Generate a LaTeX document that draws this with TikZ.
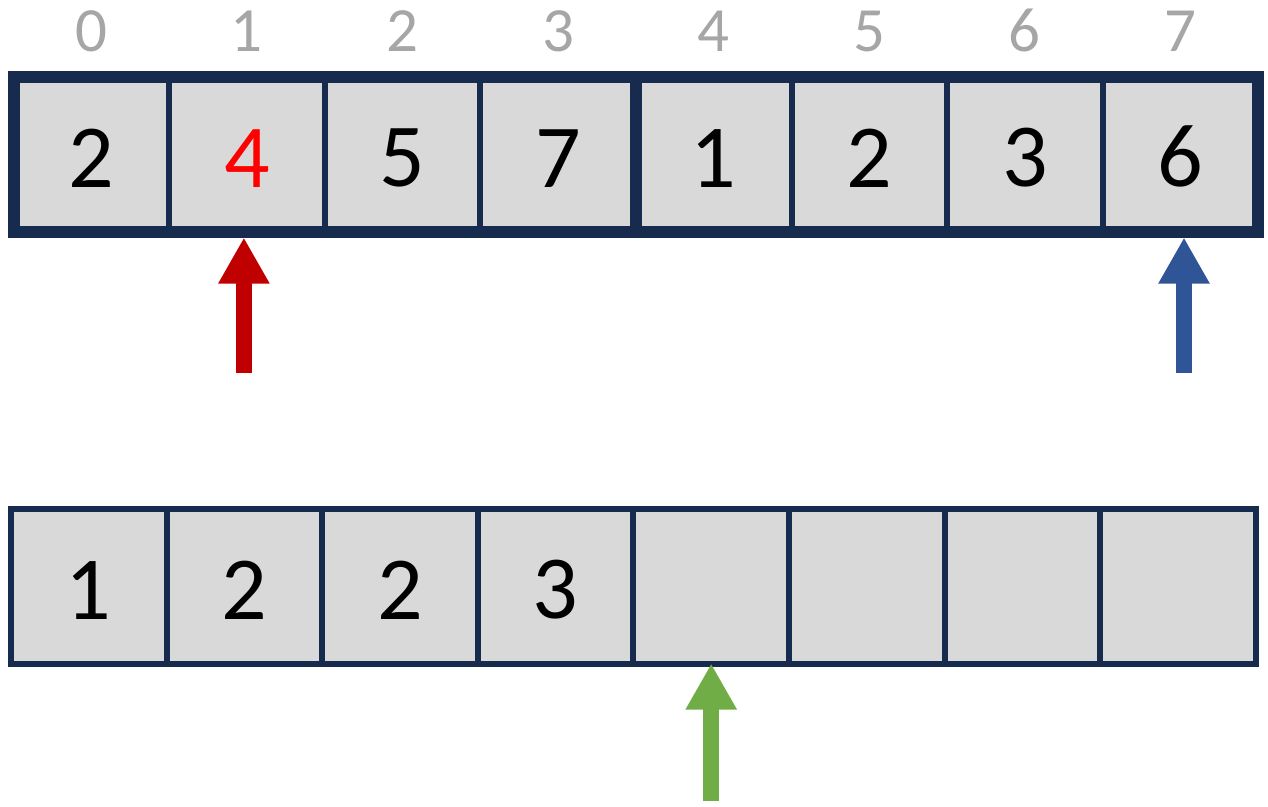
\documentclass[tikz,border=0pt]{standalone}
\usepackage{fontspec}
\setmainfont{Carlito}
\usepackage{xcolor}
\usepackage{tikz}
\usetikzlibrary{arrows.meta, positioning}
\definecolor{framenavy}{HTML}{172B4F}
\definecolor{cellgray}{HTML}{D9D9D9}
\definecolor{idxgray}{HTML}{A6A6A6}
\definecolor{hlred}{HTML}{FF0000}
\definecolor{ptrred}{HTML}{C00000}
\definecolor{ptrblue}{HTML}{2F5597}
\definecolor{ptrgreen}{HTML}{70AD47}
\tikzstyle{cellnode} = [draw=framenavy, fill=cellgray, line width=6pt, minimum width=155.6pt, minimum height=155pt, inner sep=0pt, outer sep=0pt, text height=66pt, font=\fontsize{90}{90}\selectfont]
\tikzstyle{idxnode} = [inner sep=0pt, outer sep=0pt, text=idxgray, font=\fontsize{63}{63}\selectfont]
\tikzstyle{framebox} = [draw=framenavy, line width=12pt]
\tikzstyle{ptrarrw} = [line width=15.5pt, -{Triangle[length=46pt, width=48pt]}]

\begin{document}
\begin{tikzpicture}[x=1pt, y=1pt]
    \useasboundingbox (0,0) rectangle (1268,-806);

    % input array
    \node (top0) [cellnode] at (91.3,-154) {2};
    \node (top1) [cellnode, right=0pt of top0, text=hlred] {4};
    \node (top2) [cellnode, right=0pt of top1] {5};
    \node (top3) [cellnode, right=0pt of top2] {7};
    \node (top4) [cellnode, right=0pt of top3] {1};
    \node (top5) [cellnode, right=0pt of top4] {2};
    \node (top6) [cellnode, right=0pt of top5] {3};
    \node (top7) [cellnode, right=0pt of top6] {6};
    \draw [framebox] (top0.north west) rectangle (top7.south east);
    \draw [framebox] (top3.north east) -- (top3.south east);

    % indices
    \node (idx0) [idxnode, above=25pt of top0] {0};
    \node (idx1) [idxnode, above=25pt of top1] {1};
    \node (idx2) [idxnode, above=25pt of top2] {2};
    \node (idx3) [idxnode, above=25pt of top3] {3};
    \node (idx4) [idxnode, above=25pt of top4] {4};
    \node (idx5) [idxnode, above=25pt of top5] {5};
    \node (idx6) [idxnode, above=25pt of top6] {6};
    \node (idx7) [idxnode, above=25pt of top7] {7};

    % output array
    \node (bot0) [cellnode] at (88.8,-586) {1};
    \node (bot1) [cellnode, right=0pt of bot0] {2};
    \node (bot2) [cellnode, right=0pt of bot1] {2};
    \node (bot3) [cellnode, right=0pt of bot2] {3};
    \node (bot4) [cellnode, right=0pt of bot3] {};
    \node (bot5) [cellnode, right=0pt of bot4] {};
    \node (bot6) [cellnode, right=0pt of bot5] {};
    \node (bot7) [cellnode, right=0pt of bot6] {};

    % pointers
    \coordinate (redtail) at ([xshift=-3pt, yshift=-141.5pt]top1.south);
    \coordinate (bluetail) at ([xshift=3.5pt, yshift=-141.5pt]top7.south);
    \coordinate (greentail) at ([yshift=-137.5pt]bot4.south);
    \draw [ptrarrw, ptrred] (redtail) -- ([xshift=-3pt, yshift=-6pt]top1.south);
    \draw [ptrarrw, ptrblue] (bluetail) -- ([xshift=3.5pt, yshift=-6pt]top7.south);
    \draw [ptrarrw, ptrgreen] (greentail) -- (bot4.south);
\end{tikzpicture}
\end{document}
